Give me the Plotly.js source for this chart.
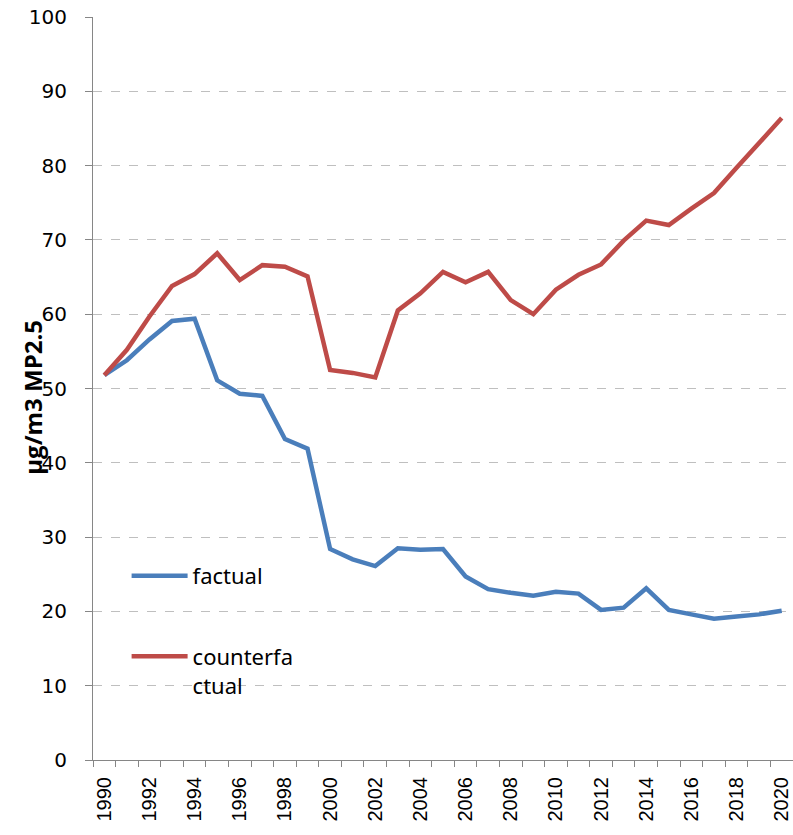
<!DOCTYPE html>
<html>
<head>
<meta charset="utf-8">
<script src="https://cdn.plot.ly/plotly-3.0.1.min.js"></script>
<style>html,body{margin:0;padding:0;background:#fff;}#chart{width:793px;height:835px;}</style>
</head>
<body>
<div id="chart"></div>
<script>
const years = [1990,1991,1992,1993,1994,1995,1996,1997,1998,1999,2000,2001,2002,2003,2004,2005,2006,2007,2008,2009,2010,2011,2012,2013,2014,2015,2016,2017,2018,2019,2020];
const factual = [51.8,53.8,56.6,59.1,59.4,51.1,49.3,49.0,43.2,41.9,28.4,27.0,26.1,28.5,28.3,28.4,24.7,23.0,22.5,22.1,22.65,22.4,20.2,20.5,23.1,20.2,19.6,19.0,19.3,19.6,20.1];
const counterfactual = [51.8,55.2,59.7,63.8,65.4,68.2,64.6,66.6,66.4,65.1,52.5,52.1,51.5,60.5,62.8,65.7,64.3,65.7,61.9,60.0,63.3,65.3,66.7,69.9,72.6,72.0,74.2,76.3,79.7,83.0,86.4];
const seriesNames = ["factual", "counterfa<br>ctual"];
const xTickVals = [1990,1992,1994,1996,1998,2000,2002,2004,2006,2008,2010,2012,2014,2016,2018,2020];
const yTitle = "µg/m3 MP2.5";

const traces = [
  {x: years, y: factual, name: seriesNames[0], type: 'scatter', mode: 'lines', legendgroup: 'a',
   line: {color: '#4a7ebb', width: 4.5}},
  {x: years, y: counterfactual, name: seriesNames[1], type: 'scatter', mode: 'lines', legendgroup: 'b',
   line: {color: '#be4b48', width: 4.5}}
];

const layout = {
  width: 793, height: 835,
  margin: {l: 93, r: 0, t: 17, b: 75, pad: 0},
  paper_bgcolor: '#fff', plot_bgcolor: '#fff',
  showlegend: true,
  legend: {x: 0.048, y: 0.276, xanchor: 'left', yanchor: 'top', bgcolor: 'rgba(0,0,0,0)',
    font: {family: 'Noto Sans, Open Sans, sans-serif', size: 22, color: '#000'},
    itemwidth: 56, tracegroupgap: 49, valign: 'top'},
  xaxis: {
    type: 'linear', range: [1989.5, 2020.5], tickmode: 'array', tickvals: xTickVals,
    ticktext: xTickVals.map(String), tickangle: -90, ticks: '', showgrid: false, zeroline: false,
    showline: true, linecolor: '#868686', linewidth: 1, ticklabelstandoff: 8,
    tickfont: {family: 'Liberation Sans, Arial, sans-serif', size: 20, color: '#000'},
    minor: {tick0: 1989.5, dtick: 1, ticks: 'outside', ticklen: 6, tickcolor: '#868686', tickwidth: 1, showgrid: false}
  },
  yaxis: {
    range: [0, 100], dtick: 10, tick0: 0, ticks: 'outside', ticklen: 7, tickcolor: '#868686',
    showgrid: true, gridcolor: '#bfbfbf', griddash: 'dash', gridwidth: 1, zeroline: false,
    showline: true, linecolor: '#868686', linewidth: 1, ticklabelstandoff: 14,
    tickfont: {family: 'DejaVu Sans, Verdana, sans-serif', size: 20, color: '#000'}
  },
  annotations: [{
    text: '<b>' + yTitle + '</b>', xref: 'paper', yref: 'paper', x: -0.086, y: 0.4886,
    xanchor: 'center', yanchor: 'middle', textangle: -90, showarrow: false,
    font: {family: 'Open Sans, Noto Sans, sans-serif', size: 24, color: '#000'}
  }]
};

Plotly.newPlot('chart', traces, layout, {displayModeBar: false, staticPlot: true});
</script>
</body>
</html>
